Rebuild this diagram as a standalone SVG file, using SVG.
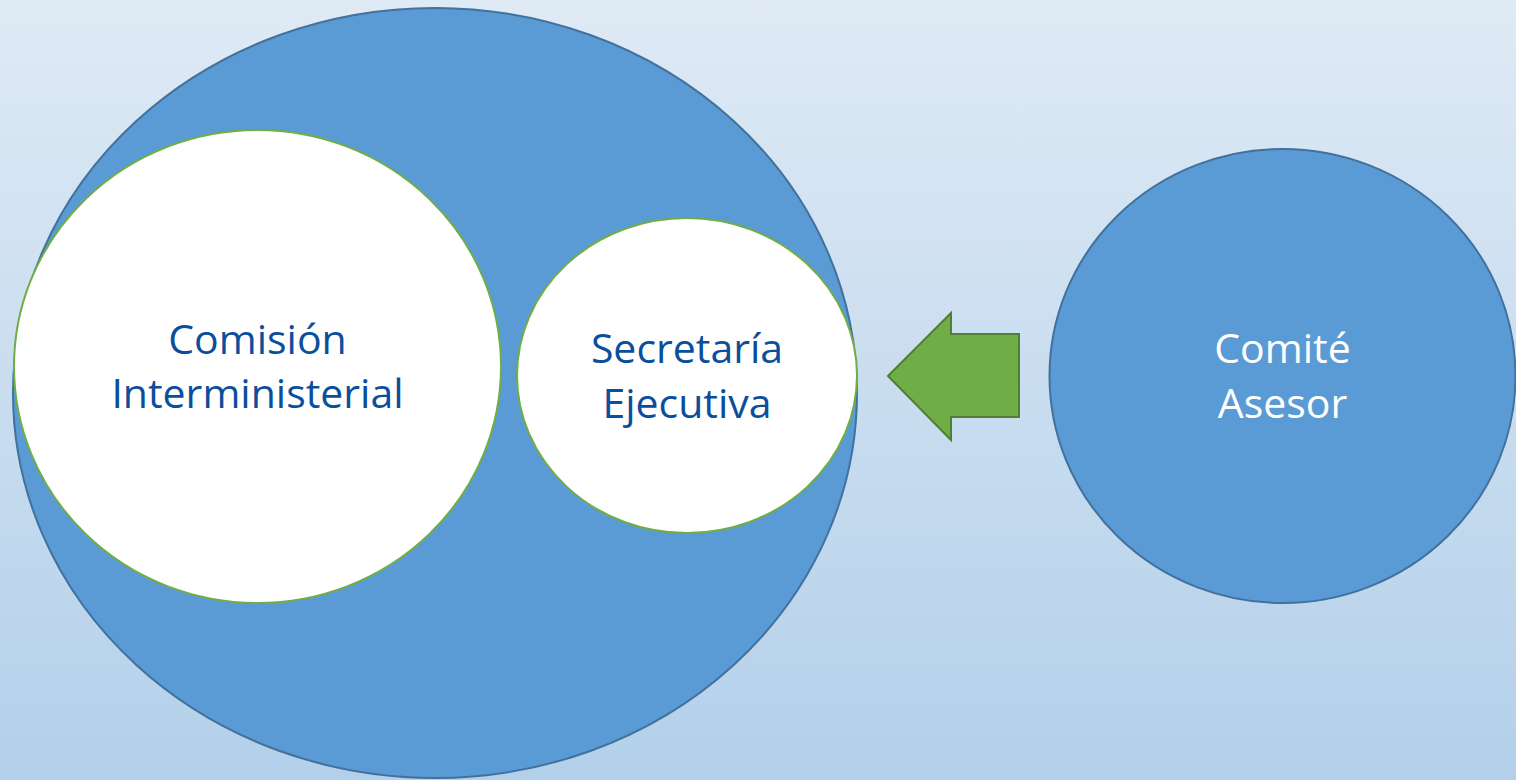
<svg xmlns="http://www.w3.org/2000/svg" width="1516" height="780" viewBox="0 0 1516 780">
<defs>
<linearGradient id="bg" x1="0" y1="0" x2="0" y2="1">
<stop offset="0" stop-color="#dfeaf5"/>
<stop offset="1" stop-color="#b3d0ea"/>
</linearGradient>
<style>
.blue{fill:#5b9bd5;stroke:#41719c;stroke-width:2}
.white{fill:#ffffff;stroke:#70ad47;stroke-width:2}
.t{font-family:"Open Sans","Liberation Sans",sans-serif;font-size:41px;text-anchor:middle}
.dark{fill:#0b4f9c}
.light{fill:#ffffff}
</style>
</defs>
<rect width="1516" height="780" fill="url(#bg)"/>
<g id="outer">
<ellipse class="blue" cx="435" cy="393" rx="422" ry="385"/>
</g>
<g id="comision">
<ellipse class="white" cx="257.5" cy="366.5" rx="243.5" ry="236.5"/>
<text class="t dark" x="257.5" y="354">Comisión</text>
<text class="t dark" x="257.5" y="408">Interministerial</text>
</g>
<g id="secretaria">
<ellipse class="white" cx="687" cy="375.5" rx="170" ry="157.5"/>
<text class="t dark" x="687" y="363">Secretaría</text>
<text class="t dark" x="687" y="418">Ejecutiva</text>
</g>
<g id="comite">
<ellipse class="blue" cx="1282.5" cy="376" rx="233" ry="227"/>
<text class="t light" x="1282.5" y="363">Comité</text>
<text class="t light" x="1282.5" y="418">Asesor</text>
</g>
<g id="connectors">
<polygon points="888,376 951,313 951,334 1019,334 1019,417 951,417 951,440" fill="#70ad47" stroke="#507e32" stroke-width="2"/>
</g>
</svg>
